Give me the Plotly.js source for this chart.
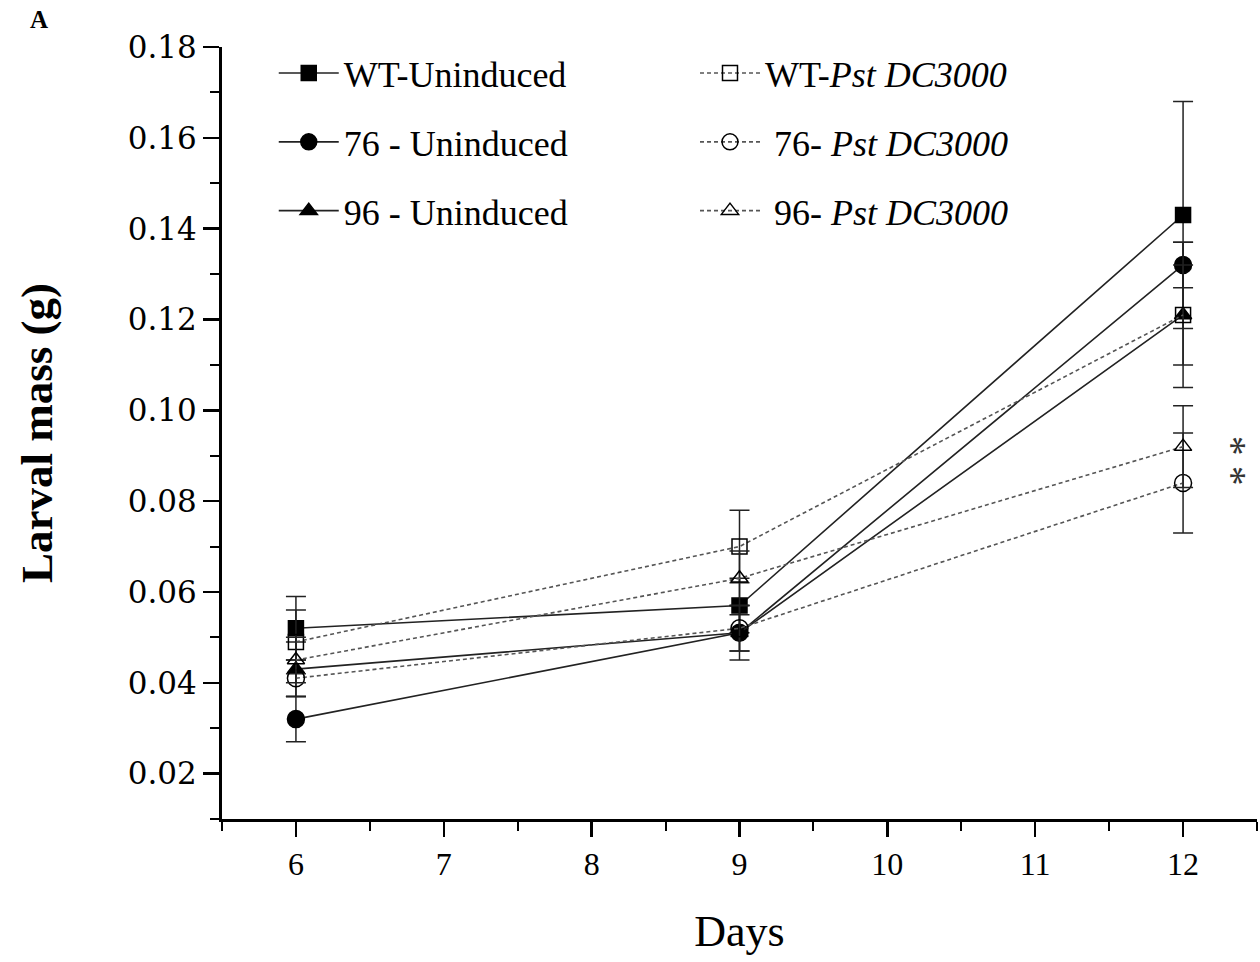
<!DOCTYPE html>
<html>
<head>
<meta charset="utf-8">
<script src="https://cdn.plot.ly/plotly-3.0.1.min.js"></script>
<style>html,body{margin:0;padding:0;background:#fff;}#chart{width:1260px;height:962px;}</style>
</head>
<body>
<div id="chart"></div>
<script>
const days = [6, 9, 12];
const names = ["WT-Uninduced", "76 - Uninduced", "96 - Uninduced",
               "WT-<i>Pst DC3000</i>", "&nbsp;76- <i>Pst DC3000</i>", "&nbsp;96- <i>Pst DC3000</i>"];
const wtUninduced = [0.052, 0.057, 0.143];
const wtUninducedErr = [0.007, 0.006, 0.025];
const l76Uninduced = [0.032, 0.051, 0.132];
const l76UninducedErr = [0.005, 0.004, 0.005];
const l96Uninduced = [0.043, 0.051, 0.121];
const l96UninducedErr = [0.006, 0.006, 0.016];
const wtPst = [0.049, 0.070, 0.121];
const wtPstErr = [0.007, 0.008, 0.011];
const l76Pst = [0.041, 0.052, 0.084];
const l76PstErr = [0.004, 0.005, 0.011];
const l96Pst = [0.045, 0.063, 0.092];
const l96PstErr = [0.005, 0.006, 0.009];

const series = [
  {y: wtUninduced, e: wtUninducedErr, sym: "square", dash: "solid", leg: "legend"},
  {y: l76Uninduced, e: l76UninducedErr, sym: "circle", dash: "solid", leg: "legend"},
  {y: l96Uninduced, e: l96UninducedErr, sym: "triangle-up", dash: "solid", leg: "legend"},
  {y: wtPst, e: wtPstErr, sym: "square-open", dash: "dash", leg: "legend2"},
  {y: l76Pst, e: l76PstErr, sym: "circle-open", dash: "dash", leg: "legend2"},
  {y: l96Pst, e: l96PstErr, sym: "triangle-up-open", dash: "dash", leg: "legend2"}
];

const traces = series.map((s, i) => ({
  x: days, y: s.y, name: names[i], type: "scatter", mode: "lines+markers",
  legend: s.leg, legendgroup: "g" + i,
  line: {color: s.dash === "solid" ? "#222" : "#555", width: 1.6, dash: s.dash === "solid" ? "solid" : "4px,3px"},
  marker: {symbol: s.sym, size: s.sym.indexOf("circle") === 0 ? 17 : 15, color: "#000", line: {color: "#000", width: 1.5}},
  error_y: {type: "data", array: s.e, visible: true, color: "#222", thickness: 1.5, width: 10}
}));

const layout = {
  width: 1260, height: 962,
  margin: {l: 222, r: 3, t: 47, b: 143},
  paper_bgcolor: "#fff", plot_bgcolor: "#fff",
  font: {family: "Liberation Serif, serif", color: "#000"},
  xaxis: {
    range: [5.5, 12.5], tickvals: [6, 7, 8, 9, 10, 11, 12],
    ticks: "outside", ticklen: 15, tickwidth: 2.5, tickcolor: "#000",
    minor: {dtick: 0.5, tick0: 5.5, ticks: "outside", ticklen: 9, tickwidth: 2, tickcolor: "#000"},
    showline: true, linecolor: "#000", linewidth: 3, showgrid: false, zeroline: false,
    tickfont: {family: "Liberation Serif, serif", size: 32, color: "#000"},
    title: {text: "Days", font: {family: "Liberation Serif, serif", size: 44, color: "#000"}, standoff: 34}
  },
  yaxis: {
    range: [0.01, 0.18], tickvals: [0.02, 0.04, 0.06, 0.08, 0.10, 0.12, 0.14, 0.16, 0.18],
    ticktext: ["0.02", "0.04", "0.06", "0.08", "0.10", "0.12", "0.14", "0.16", "0.18"],
    ticks: "outside", ticklen: 16, tickwidth: 2.5, tickcolor: "#000",
    minor: {dtick: 0.01, tick0: 0.01, ticks: "outside", ticklen: 9, tickwidth: 2, tickcolor: "#000"},
    showline: true, linecolor: "#000", linewidth: 3, showgrid: false, zeroline: false,
    tickfont: {family: "DejaVu Serif, serif", size: 31, color: "#000"},
    title: {text: "<b>Larval mass (g)</b>", font: {family: "Liberation Serif, serif", size: 45, color: "#000"}, standoff: 62}
  },
  legend: {
    x: 0.05, y: 1.005, xanchor: "left", yanchor: "top", bgcolor: "rgba(0,0,0,0)",
    font: {family: "Liberation Serif, serif", size: 36, color: "#000"},
    itemwidth: 60, tracegroupgap: 19, traceorder: "grouped"
  },
  legend2: {
    x: 0.457, y: 1.005, xanchor: "left", yanchor: "top", bgcolor: "rgba(0,0,0,0)",
    font: {family: "Liberation Serif, serif", size: 36, color: "#000"},
    itemwidth: 60, tracegroupgap: 19, traceorder: "grouped"
  },
  annotations: [
    {text: "<b>A</b>", xref: "paper", yref: "paper", x: -0.177, y: 1.035, xanchor: "center", yanchor: "middle",
     showarrow: false, font: {family: "Liberation Serif, serif", size: 25, color: "#000"}},
    {text: "* *", xref: "paper", yref: "y", x: 1.0, y: 0.089, xanchor: "right", yanchor: "middle",
     textangle: 90, showarrow: false, font: {family: "Liberation Serif, serif", size: 40, color: "#333"}}
  ]
};

Plotly.newPlot("chart", traces, layout, {displayModeBar: false, staticPlot: true});
</script>
</body>
</html>
